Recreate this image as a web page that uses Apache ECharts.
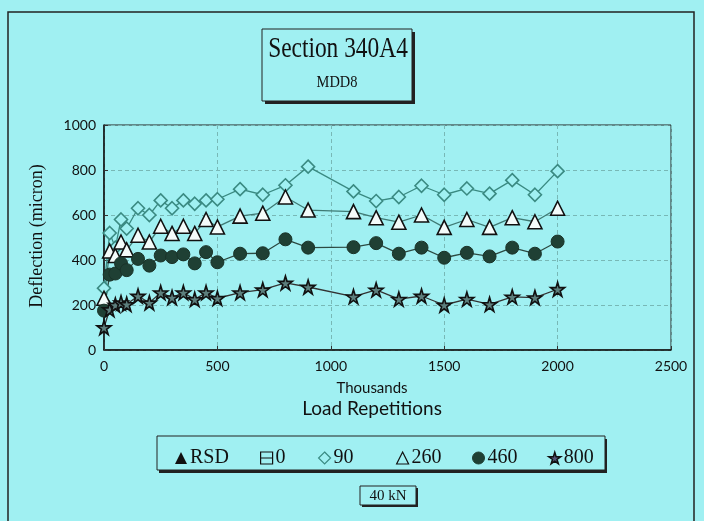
<!DOCTYPE html>
<html>
<head>
<meta charset="utf-8">
<script src="https://cdn.jsdelivr.net/npm/echarts@6/dist/echarts.min.js"></script>
<style>
html,body{margin:0;padding:0;background:#a0f0f2;}
#c{width:704px;height:521px;}
</style>
</head>
<body>
<div id="c"></div>
<script>
// Load repetitions (thousands)
var loadReps = [0,25,50,75,100,150,200,250,300,350,400,450,500,600,700,800,900,1100,1200,1300,1400,1500,1600,1700,1800,1900,2000];
// Deflection (micron) per sensor depth series
var s90  = [275,520,455,580,540,630,600,665,630,665,650,665,670,715,690,732,815,705,662,680,730,690,718,695,755,690,795];
var s260 = [230,440,420,480,445,510,480,550,518,550,518,580,547,595,608,680,622,615,588,568,600,545,580,545,588,570,630];
var s460 = [175,335,340,385,355,405,375,420,413,425,385,435,390,428,430,492,455,457,475,428,455,410,432,416,455,428,482];
var s800 = [100,180,200,210,203,240,210,255,233,255,225,255,230,255,268,298,280,237,267,226,240,200,226,203,236,233,270];
var sRSD = [];
var s0 = [];
var xTicks = [0,500,1000,1500,2000,2500];
var yTicks = [0,200,400,600,800,1000];

var BG = '#a0f0f2';
var STAR = 'path://M50,0 L61,35 L98,35 L68,57 L79,91 L50,70 L21,91 L32,57 L2,35 L39,35 Z';
function pairs(v){ return v.map(function(y,i){ return [loadReps[i], y]; }); }

var chart = echarts.init(document.getElementById('c'));
var serif = 'Liberation Serif';
var legendCommon = { top: 443, itemWidth: 12, itemHeight: 12, itemGap: 0,
  textStyle: { fontFamily: serif, fontSize: 20, color: '#111', padding: [0,0,0,-2] } };
function leg(left, name, icon, style){
  return Object.assign({}, legendCommon, { left: left, data: [{ name: name, icon: icon, itemStyle: style }] });
}
function plain(v){ return String(v); }

chart.setOption({
  backgroundColor: BG,
  animation: false,
  grid: { left: 104, top: 125, right: 33, bottom: 171, show: true, borderColor: '#222', borderWidth: 1 },
  xAxis: {
    type: 'value', min: 0, max: 2500, interval: 500,
    axisLine: { show: true, onZero: false, lineStyle: { color: '#111', width: 1.5 } },
    axisTick: { show: true, inside: true, length: 4, lineStyle: { color: '#333' } },
    axisLabel: { margin: 9, fontFamily: 'Lato', fontSize: 14, color: '#111', formatter: plain,
      customValues: xTicks },
    splitLine: { show: true, lineStyle: { color: '#78b8b6', type: [4,3], width: 1 } }
  },
  yAxis: {
    type: 'value', min: 0, max: 1000, interval: 200,
    axisLine: { show: true, lineStyle: { color: '#111', width: 1.5 } },
    axisTick: { show: true, inside: true, length: 4, lineStyle: { color: '#333' } },
    axisLabel: { margin: 8, fontFamily: 'Lato', fontSize: 14, color: '#111', formatter: plain, customValues: yTicks },
    splitLine: { show: true, lineStyle: { color: '#78b8b6', type: [4,3], width: 1 } }
  },
  legend: [
    leg(170, 'RSD', 'triangle', { color: '#111', borderWidth: 0 }),
    leg(255, '0', 'path://M0,0 H10 V10 H0 Z M0,5 H10', { color: 'transparent', borderColor: '#111', borderWidth: 1.2 }),
    leg(313, '90', 'diamond', { color: BG, borderColor: '#3a8a82', borderWidth: 1.2 }),
    leg(391, '260', 'triangle', { color: BG, borderColor: '#111', borderWidth: 1.2 }),
    leg(467, '460', 'circle', { color: '#1f4034', borderColor: '#1f4034', borderWidth: 1 }),
    leg(543, '800', STAR, { color: '#557', borderColor: '#111', borderWidth: 1.5 })
  ],
  series: [
    { name: 'RSD', type: 'line', data: pairs(sRSD), symbol: 'triangle', symbolSize: 12,
      itemStyle: { color: '#111' }, lineStyle: { color: '#111' } },
    { name: '0', type: 'line', data: pairs(s0), symbol: 'rect', symbolSize: 12,
      itemStyle: { color: 'transparent', borderColor: '#111' }, lineStyle: { color: '#111' } },
    { name: '90', type: 'line', data: pairs(s90), symbol: 'diamond', symbolSize: 13,
      itemStyle: { color: BG, borderColor: '#3a8a82', borderWidth: 1.6 },
      lineStyle: { color: '#3a8a82', width: 1.3 } },
    { name: '260', type: 'line', data: pairs(s260), symbol: 'triangle', symbolSize: 14,
      itemStyle: { color: '#f4fbfa', borderColor: '#111', borderWidth: 1.6 },
      lineStyle: { color: '#3f7a74', width: 1.3 } },
    { name: '460', type: 'line', data: pairs(s460), symbol: 'circle', symbolSize: 13,
      itemStyle: { color: '#1f4034', borderColor: '#1a3329', borderWidth: 1 },
      lineStyle: { color: '#2c4a42', width: 1.3 } },
    { name: '800', type: 'line', data: pairs(s800), symbol: STAR, symbolSize: 14,
      itemStyle: { color: '#5d7f7d', borderColor: '#111', borderWidth: 1.6 },
      lineStyle: { color: '#333', width: 1.3 } }
  ],
  graphic: [
    // outer frame
    { type: 'rect', shape: { x: 8, y: 12, width: 686, height: 540 }, style: { fill: 'none', stroke: '#222', lineWidth: 1.5 }, silent: true },
    // title box with shadow
    { type: 'rect', shape: { x: 265, y: 32, width: 150, height: 72 }, style: { fill: '#222' }, silent: true },
    { type: 'rect', shape: { x: 262, y: 29, width: 150, height: 72 }, style: { fill: BG, stroke: '#222', lineWidth: 1 }, silent: true },
    { type: 'text', x: 338, y: 49, scaleX: 0.78, style: { text: 'Section 340A4', font: '30px "Liberation Serif"', fill: '#111', textAlign: 'center', textVerticalAlign: 'middle' } },
    { type: 'text', x: 337, y: 83, scaleX: 0.85, style: { text: 'MDD8', font: '17px "Liberation Serif"', fill: '#111', textAlign: 'center', textVerticalAlign: 'middle' } },
    // y axis name
    { type: 'text', x: 37, y: 236, rotation: Math.PI / 2, style: { text: 'Deflection (micron)', font: '18px "Liberation Serif"', fill: '#111', textAlign: 'center', textVerticalAlign: 'middle' } },
    // x axis names
    { type: 'text', x: 372, y: 388, style: { text: 'Thousands', font: '15px Lato', fill: '#111', textAlign: 'center', textVerticalAlign: 'middle' } },
    { type: 'text', x: 372, y: 409, style: { text: 'Load Repetitions', font: '19px Lato', fill: '#111', textAlign: 'center', textVerticalAlign: 'middle' } },
    // legend box with shadow
    { type: 'rect', z: -1, shape: { x: 159, y: 439, width: 448, height: 34 }, style: { fill: '#222' }, silent: true },
    { type: 'rect', z: -1, shape: { x: 157, y: 436, width: 448, height: 34 }, style: { fill: BG, stroke: '#222', lineWidth: 1 }, silent: true },
    // 40 kN box
    { type: 'rect', shape: { x: 362, y: 488, width: 56, height: 19 }, style: { fill: '#222' }, silent: true },
    { type: 'rect', shape: { x: 360, y: 486, width: 56, height: 19 }, style: { fill: BG, stroke: '#222', lineWidth: 1 }, silent: true },
    { type: 'text', x: 388, y: 496, style: { text: '40 kN', font: '15px "Liberation Serif"', fill: '#111', textAlign: 'center', textVerticalAlign: 'middle' } }
  ]
});
</script>
</body>
</html>
